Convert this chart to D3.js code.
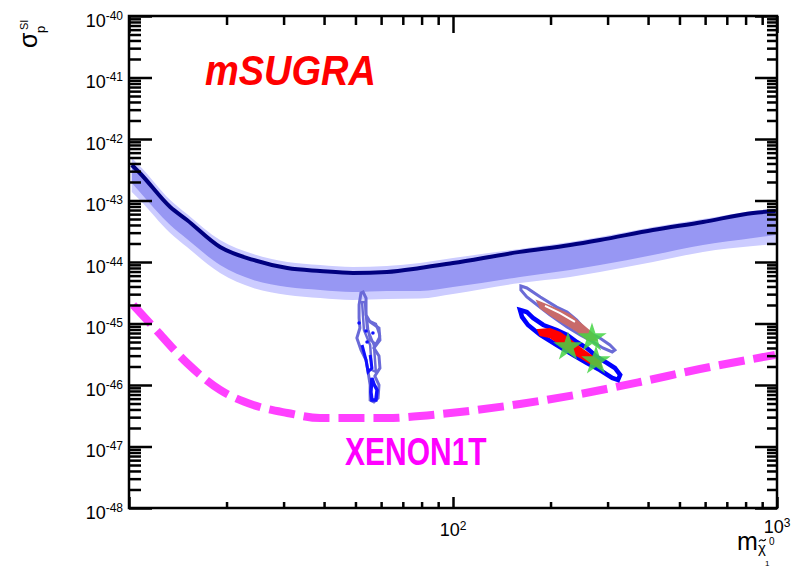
<!DOCTYPE html>
<html>
<head>
<meta charset="utf-8">
<script src="https://cdn.jsdelivr.net/npm/d3@7"></script>
<style>
  html, body { margin: 0; padding: 0; background: #fff; }
  svg { display: block; font-family: "Liberation Sans", Arial, Helvetica, sans-serif; }
</style>
</head>
<body>
<svg id="chart" width="796" height="568"></svg>
<script>
// ---- Data -------------------------------------------------------------
// Neutralino mass grid (GeV) for the exclusion limit and its bands
const limitMass = [10.2, 10.8, 13.4, 15.1, 19.1, 24.2, 30.8, 38.9, 49.1, 62.5, 79.1, 100, 161, 230, 284, 414, 591, 844, 990];
// Central limit on sigma_SI (cm^2)
const limitCentral = [3.78e-43, 2.80e-43, 7.84e-44, 4.82e-44, 1.75e-44, 1.08e-44, 7.98e-45, 7.14e-45, 6.62e-45, 6.88e-45, 7.98e-45, 9.63e-45, 1.46e-44, 1.89e-44, 2.28e-44, 3.31e-44, 4.47e-44, 6.27e-44, 6.75e-44];
// Inner (1 sigma) band lower edge
const band1Low = [1.93e-43, 1.37e-43, 4.0e-44, 2.37e-44, 8.93e-45, 5.09e-45, 3.92e-45, 3.51e-45, 3.25e-45, 3.38e-45, 3.38e-45, 3.92e-45, 5.70e-45, 7.41e-45, 8.93e-45, 1.30e-44, 1.89e-44, 2.45e-44, 2.75e-44];
// Outer (2 sigma) band edges
const band2High = [4.91e-43, 3.64e-43, 1.02e-43, 6.03e-44, 2.28e-44, 1.35e-44, 1.0e-44, 8.93e-45, 8.30e-45, 8.61e-45, 9.63e-45, 1.16e-44, 1.63e-44, 2.11e-44, 2.55e-44, 3.71e-44, 5.0e-44, 6.75e-44, 7.28e-44];
const band2Low = [1.37e-43, 1.02e-43, 2.96e-44, 1.75e-44, 6.62e-45, 3.78e-45, 2.91e-45, 2.60e-45, 2.41e-45, 2.50e-45, 2.55e-45, 3.02e-45, 4.56e-45, 5.70e-45, 6.88e-45, 1.0e-44, 1.46e-44, 1.82e-44, 1.96e-44];

// XENON1T projected sensitivity
const xenonMass = [10.3, 11.9, 15.1, 19.1, 24.2, 30.8, 38.9, 49.1, 62.5, 79.1, 105, 161, 247, 378, 578, 986];
const xenonSigma = [2.0e-45, 8.77e-46, 2.28e-46, 8.30e-47, 4.73e-47, 3.51e-47, 2.90e-47, 2.90e-47, 2.90e-47, 3.13e-47, 3.64e-47, 4.91e-47, 7.14e-47, 1.12e-46, 1.82e-46, 3.08e-46];

// mSUGRA allowed regions, [mass, sigma] contour points
const hFunnelOuter = [[52.0,3.13e-45],[51.3,2.0e-45],[51.3,1.23e-45],[51.6,8.45e-46],[50.5,5.81e-46],[52.0,3.71e-46],[53.9,2.55e-46],[54.7,1.63e-46],[55.5,1.0e-46],[55.5,5.70e-47],[57.0,5.30e-47],[58.7,6.15e-47],[59.1,1.0e-46],[57.4,1.40e-46],[59.5,1.89e-46],[59.1,2.96e-46],[57.0,4.0e-46],[59.5,5.40e-46],[59.1,8.45e-46],[55.5,1.06e-45],[53.9,1.38e-45],[53.9,2.60e-45],[52.8,3.25e-45]];
const hFunnelInner = [[52.4,2.24e-45],[53.1,7.84e-46],[55.5,4.47e-46],[56.2,1.75e-46],[57.8,1.63e-46],[57.0,4.47e-46],[54.3,8.45e-46],[53.5,2.24e-45]];
const hFunnelLoop = [[54.3,1.14e-45],[57.8,9.82e-46],[59.5,6.27e-46],[57.8,4.64e-46],[55.5,5.40e-46],[54.7,7.84e-46]];
const hFunnelCoreA = [[56.2,1.30e-46],[55.8,7.69e-47],[56.2,5.70e-47],[57.8,5.70e-47],[58.3,8.30e-47],[57.0,1.04e-46]];
const hFunnelCoreB = [[52.4,4.47e-46],[53.9,2.55e-46],[54.7,1.63e-46],[56.2,1.89e-46],[55.5,3.08e-46]];
const hFunnelDots = [[51.3,1.02e-45],[53.9,7.55e-46],[56.6,7.01e-46],[54.3,5.0e-46]];

const coannUpper = [[162,4.07e-45],[169,3.78e-45],[186,2.70e-45],[209,1.85e-45],[225,1.54e-45],[241,1.14e-45],[259,7.28e-46],[284,5.81e-46],[305,4.47e-46],[316,3.71e-46],[310,3.44e-46],[290,4.0e-46],[271,5.0e-46],[247,6.50e-46],[225,8.77e-46],[199,1.38e-45],[182,2.0e-45],[169,2.70e-45],[162,3.51e-45]];
const coannUpperFill = [[181.7,2.32e-45],[209,1.72e-45],[230,1.38e-45],[247,1.02e-45],[268.5,7.01e-46],[278,5.40e-46],[261,5.40e-46],[241,7.55e-46],[225,9.46e-46],[203.5,1.28e-45],[186,1.79e-45]];
const coannUpperCore = [[192.3,1.93e-45],[214,1.48e-45],[237.9,1.06e-45]];
const coannLower = [[161,1.66e-45],[169,1.54e-45],[176.6,1.23e-45],[190,9.46e-46],[209,7.84e-46],[225,6.50e-46],[241,5.0e-46],[259,4.0e-46],[278,2.85e-46],[299,2.28e-46],[316,1.89e-46],[328,1.46e-46],[323,1.21e-46],[310,1.30e-46],[284,1.75e-46],[259,2.28e-46],[235,3.08e-46],[209,4.47e-46],[186,6.50e-46],[170.4,9.46e-46],[163.3,1.28e-45]];
const coannLowerFill = [[183,7.84e-46],[199,8.14e-46],[214,7.01e-46],[230,5.40e-46],[247,4.0e-46],[265,3.08e-46],[284,2.37e-46],[286.3,1.96e-46],[265,2.28e-46],[247,2.85e-46],[230,3.44e-46],[214,4.64e-46],[199,6.03e-46],[186,6.50e-46]];
const benchmarkStars = [[268.5,5.81e-46],[226.4,4.15e-46],[276.3,2.45e-46]];

// Axis ticks
const yTickExponents = [-48, -47, -46, -45, -44, -43, -42, -41, -40];
const xTickLabels = [{value: 100, base: "10", exp: "2"}, {value: 1000, base: "10", exp: "3"}];

// ---- Layout -----------------------------------------------------------
const svg = d3.select("#chart");
const plot = {left: 129, right: 777, top: 16, bottom: 508};

const x = d3.scaleLog().domain([10, 1000]).range([plot.left, plot.right]);
const y = d3.scaleLog().domain([1e-48, 1e-40]).range([plot.bottom, plot.top]);

svg.append("defs").append("clipPath").attr("id", "plotClip")
  .append("rect")
  .attr("x", plot.left).attr("y", plot.top)
  .attr("width", plot.right - plot.left).attr("height", plot.bottom - plot.top);

const g = svg.append("g").attr("clip-path", "url(#plotClip)");

// ---- Limit bands and central curve -------------------------------------
const bandArea = (hi, lo) => d3.area()
  .x((d, i) => x(limitMass[i]))
  .y0((d, i) => y(lo[i]))
  .y1((d, i) => y(hi[i]))
  .curve(d3.curveMonotoneX)(limitMass);

g.append("path").attr("d", bandArea(band2High, band2Low)).attr("fill", "#ccccff");
g.append("path").attr("d", bandArea(limitCentral, band1Low)).attr("fill", "#9797f3");

g.append("path")
  .attr("d", d3.line().x((d, i) => x(limitMass[i])).y((d, i) => y(limitCentral[i])).curve(d3.curveMonotoneX)(limitMass))
  .attr("fill", "none").attr("stroke", "#00007f").attr("stroke-width", 4);

// ---- XENON1T dashed sensitivity -----------------------------------------
g.append("path")
  .attr("d", d3.line().x((d, i) => x(xenonMass[i])).y((d, i) => y(xenonSigma[i])).curve(d3.curveMonotoneX)(xenonMass))
  .attr("fill", "none").attr("stroke", "#ff40ff").attr("stroke-width", 8)
  .attr("stroke-dasharray", "26,9");

// ---- mSUGRA regions -------------------------------------------------------
const closed = d3.line().x(d => x(d[0])).y(d => y(d[1])).curve(d3.curveLinearClosed);
const open = d3.line().x(d => x(d[0])).y(d => y(d[1]));

// Higgs-funnel strip
g.append("path").attr("d", closed(hFunnelOuter)).attr("fill", "none").attr("stroke", "#6a6ad8").attr("stroke-width", 3);
g.append("path").attr("d", closed(hFunnelInner)).attr("fill", "none").attr("stroke", "#6a6ad8").attr("stroke-width", 2.5);
g.append("path").attr("d", closed(hFunnelLoop)).attr("fill", "none").attr("stroke", "#6a6ad8").attr("stroke-width", 2.5);
g.append("path").attr("d", closed(hFunnelCoreA)).attr("fill", "none").attr("stroke", "#1010ff").attr("stroke-width", 3.5);
g.append("path").attr("d", open(hFunnelCoreB)).attr("fill", "none").attr("stroke", "#1010ff").attr("stroke-width", 3);
g.selectAll(".hdot").data(hFunnelDots).join("circle")
  .attr("cx", d => x(d[0])).attr("cy", d => y(d[1])).attr("r", 1.8).attr("fill", "#1010ff");

// Co-annihilation strips
g.append("path").attr("d", closed(coannUpper)).attr("fill", "#ffffff").attr("stroke", "#6b6bd6").attr("stroke-width", 3);
g.append("path").attr("d", closed(coannUpperFill)).attr("fill", "#c86a6a").attr("stroke", "#c86a6a").attr("stroke-width", 1.5);
g.append("path").attr("d", open(coannUpperCore)).attr("fill", "none").attr("stroke", "#ffffff").attr("stroke-width", 2);

g.append("path").attr("d", closed(coannLower)).attr("fill", "#ffffff").attr("stroke", "#0000ff").attr("stroke-width", 4.5);
g.append("path").attr("d", closed(coannLowerFill)).attr("fill", "#ff0000").attr("stroke", "#ff0000").attr("stroke-width", 2);

// Benchmark points
const star = d3.symbol().type(d3.symbolStar).size(270);
g.selectAll(".bench").data(benchmarkStars).join("path")
  .attr("transform", d => `translate(${x(d[0])},${y(d[1])})`)
  .attr("d", star).attr("fill", "#44d444").attr("fill-opacity", 0.85);

// ---- Axes --------------------------------------------------------------
const isDecade = v => Math.abs(Math.log10(v) - Math.round(Math.log10(v))) < 1e-6;
const yMajor = yTickExponents.map(e => Math.pow(10, e));
const yMinor = y.ticks().filter(v => !isDecade(v));
const xMajor = x.ticks().filter(isDecade);
const xMinor = x.ticks().filter(v => !isDecade(v));

function ticks(axis, transform, values, size) {
  svg.append("g").attr("transform", transform)
    .call(axis.tickValues(values).tickSize(size).tickSizeOuter(0).tickFormat(""))
    .call(sel => {
      sel.select(".domain").remove();
      sel.selectAll("line").attr("stroke", "#000").attr("stroke-width", 2.5);
    });
}
ticks(d3.axisRight(y), `translate(${plot.left},0)`, yMajor, 23);
ticks(d3.axisRight(y), `translate(${plot.left},0)`, yMinor, 12);
ticks(d3.axisLeft(y), `translate(${plot.right},0)`, yMajor, 22);
ticks(d3.axisLeft(y), `translate(${plot.right},0)`, yMinor, 10);
ticks(d3.axisBottom(x), `translate(0,${plot.top})`, xMajor, 17);
ticks(d3.axisBottom(x), `translate(0,${plot.top})`, xMinor, 9);
ticks(d3.axisTop(x), `translate(0,${plot.bottom})`, xMajor, 11);
ticks(d3.axisTop(x), `translate(0,${plot.bottom})`, xMinor, 6);

svg.append("rect")
  .attr("x", plot.left).attr("y", plot.top)
  .attr("width", plot.right - plot.left).attr("height", plot.bottom - plot.top)
  .attr("fill", "none").attr("stroke", "#000").attr("stroke-width", 2.5);

// y tick labels 10^n
const yLab = svg.append("g").selectAll("text").data(yTickExponents).join("text")
  .attr("x", 123).attr("y", e => y(Math.pow(10, e)) + 10.5)
  .attr("text-anchor", "end").attr("fill", "#000");
yLab.append("tspan").attr("font-size", 18).text("10");
yLab.append("tspan").attr("font-size", 12).attr("dy", -7).text(e => String(e));

// x tick labels
const xLab = svg.append("g").selectAll("text").data(xTickLabels).join("text")
  .attr("x", d => x(d.value)).attr("y", d => d.value === 1000 ? 533 : 536)
  .attr("text-anchor", "middle").attr("fill", "#000");
xLab.append("tspan").attr("font-size", 18).text(d => d.base);
xLab.append("tspan").attr("font-size", 12).attr("dy", -6).text(d => d.exp);

// y axis title: sigma^SI_p
const yTitle = svg.append("g").attr("transform", "translate(37,48) rotate(-90)");
yTitle.append("text").attr("x", 0).attr("y", 0).attr("font-size", 25).text("σ");
yTitle.append("text").attr("x", 18).attr("y", -9).attr("font-size", 11).text("SI");
yTitle.append("text").attr("x", 15).attr("y", 8).attr("font-size", 13).text("p");

// x axis title: m with subscript chi-tilde^0_1
const xTitle = svg.append("g");
xTitle.append("text").attr("x", 737).attr("y", 550).attr("font-size", 25).text("m");
xTitle.append("text").attr("x", 758).attr("y", 553).attr("font-size", 15).text("χ");
xTitle.append("path").attr("d", "M759,541.5 q1.7,-2.4 3.4,-1.2 t3.4,-1.2")
  .attr("fill", "none").attr("stroke", "#000").attr("stroke-width", 1.1);
xTitle.append("text").attr("x", 769).attr("y", 545).attr("font-size", 10).text("0");
xTitle.append("text").attr("x", 765).attr("y", 565.5).attr("font-size", 8).text("1");

// ---- Annotations -----------------------------------------------------------
svg.append("text")
  .attr("transform", "translate(205,85) scale(1,1.1)")
  .attr("font-size", 38).attr("font-weight", "bold").attr("font-style", "italic")
  .attr("fill", "#ff0000").text("mSUGRA");

svg.append("text")
  .attr("transform", "translate(345,465) scale(1,1.27)")
  .attr("font-size", 30).attr("font-weight", "bold")
  .attr("fill", "#ff00ff").text("XENON1T");
</script>
</body>
</html>
